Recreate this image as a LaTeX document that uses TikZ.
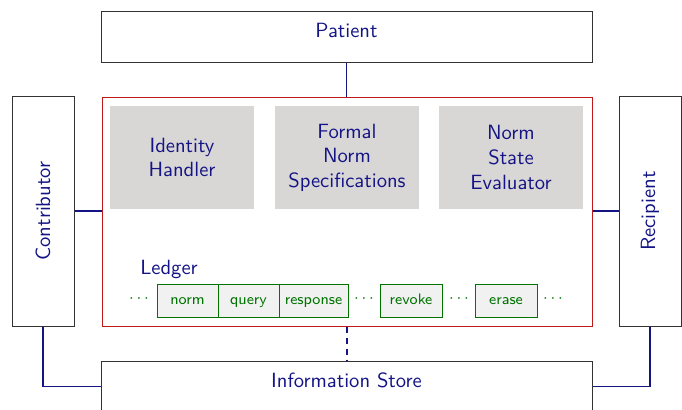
\documentclass[tikz,border=0pt]{standalone}
\usepackage{fontspec}
\usetikzlibrary{positioning}
\definecolor{navytext}{rgb}{0.08,0.08,0.52}
\definecolor{ledgergreen}{rgb}{0.0,0.45,0.0}
\definecolor{panelgray}{rgb}{0.85,0.845,0.84}
\definecolor{cellgray}{rgb}{0.945,0.945,0.945}
\definecolor{frame}{rgb}{0.75,0.1,0.1}
\tikzset{
  every node/.style={font=\sffamily\fontsize{10.3}{12.3}\selectfont},
  wide/.style={draw=black!80, line width=0.5pt, minimum width=245.5pt, minimum height=25.5pt,
    text=navytext, text height=7pt, text depth=6.5pt, inner sep=0pt},
  side/.style={draw=black!80, line width=0.5pt, minimum width=31pt, minimum height=115pt,
    text=navytext, inner sep=0pt},
  panel/.style={fill=panelgray, minimum width=72pt, minimum height=51.5pt, text=navytext,
    align=center, inner sep=0pt},
  cell/.style={draw=ledgergreen, fill=cellgray, line width=0.5pt, minimum height=16.5pt,
    text=ledgergreen, font=\sffamily\fontsize{7.6}{9}\selectfont, inner sep=0pt, text height=5.5pt, text depth=1.5pt},
  dots/.style={text=ledgergreen, font=\fontsize{7.6}{9}\selectfont, inner sep=0pt},
  link/.style={draw=navytext, line width=0.55pt},
}
\begin{document}
\begin{tikzpicture}[x=0.5pt, y=-0.5pt]
\useasboundingbox (0,0) rectangle (682,409);
% outer boxes
\node[wide] (patient) at (346.5,36.5) {Patient};
\node[wide] (store) at (346.5,386.5) {Information Store};
\node[side] (contrib) at (43,211) {\rotatebox{90}{Contributor}};
\node[side] (recip) at (650,211) {\rotatebox{90}{Recipient}};
% main frame
\node[draw=frame, line width=0.5pt, minimum width=245pt, minimum height=114.5pt, inner sep=0pt] (main) at (347,211.5) {};
% panels
\node[panel] (ident) at (182,157.5) {Identity\\Handler};
\node[panel] (formal) at (347,157.5) {Formal\\Norm\\Specifications};
\node[panel] (evalr) at (511,157.5) {Norm\\State\\Evaluator};
% ledger
\node[text=navytext, inner sep=0pt] (ledger) at (169,269) {Ledger};
\node[cell, minimum width=30.5pt] (cnorm) at (187.5,300.5) {norm};
\node[cell, minimum width=30.5pt] (cquery) at (248.5,300.5) {query};
\node[cell, minimum width=34.5pt] (cresp) at (313.5,300.5) {response};
\node[cell, minimum width=31pt] (crevoke) at (411,300.5) {revoke};
\node[cell, minimum width=31pt] (cerase) at (506,300.5) {erase};
\node[dots] (d1) at (139,299) {$\cdots$};
\node[dots] (d2) at (364,299) {$\cdots$};
\node[dots] (d3) at (459,299) {$\cdots$};
\node[dots] (d4) at (553,299) {$\cdots$};
% connectors
\draw[link] (patient.south) -- (patient.south |- main.north);
\draw[link] (contrib.east) -- (contrib.east -| main.west);
\draw[link] (recip.west -| main.east) -- (recip.west);
\draw[link, dashed, dash pattern=on 3pt off 2.5pt] (main.south) -- (main.south |- store.north);
\draw[link] (contrib.south) |- (store.west);
\draw[link] (recip.south) |- (store.east);
\end{tikzpicture}
\end{document}
